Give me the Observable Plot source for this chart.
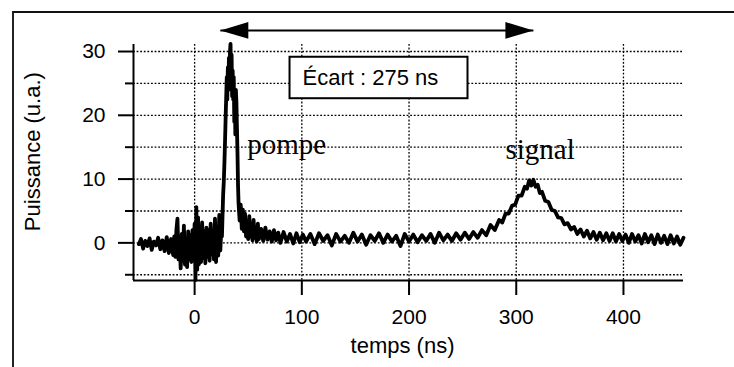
<!DOCTYPE html>
<html>
<head>
<meta charset="utf-8">
<script src="https://cdn.jsdelivr.net/npm/d3@7"></script>
<script src="https://cdn.jsdelivr.net/npm/@observablehq/plot@0.6"></script>
<style>
  html, body { margin: 0; padding: 0; background: white; }
  #wrap { position: relative; width: 734px; height: 367px; overflow: hidden; }
  #border { position: absolute; left: 12px; top: 11px; width: 740px; height: 380px;
            border-top: 2px solid #111; border-left: 2px solid #222; box-sizing: border-box; }
</style>
</head>
<body>
<div id="wrap"><div id="border"></div></div>
<script>
// ---- data: time (ns), power (u.a.) ----
const preTrigger = [[-52,-0.2],[-50,0.6],[-48,-0.9],[-46,0.3],[-44,-0.5],[-42,0.7],[-40,-1.1],[-38,0.2],[-36,-0.4],[-34,0.8],[-32,-1.0],[-30,0.4],[-28,-1.3],[-26,0.9],[-24,-1.6],[-22,0.6],[-20,-1.9]];
const triggerNoise = [[-19,1.0],[-18,-2.2],[-17,2.0],[-16,3.8],[-15,-2.6],[-14,0.8],[-13,-4.0],[-12,1.4],[-11,-2.8],[-10,2.7],[-9,-3.4],[-8,0.6],[-7,-3.8],[-6,1.8],[-5,-2.6],[-4,1.2],[-3,-3.0],[-2,2.0],[-1,-2.0],[0,3.0],[0.8,-5.8],[1.6,5.6],[2.4,-4.2],[3.2,4.0],[4,-3.4],[5,2.6],[6,-3.0],[7,3.2],[8,-2.4],[9,1.8],[10,-3.2],[11,2.4],[12,-2.2],[13,2.0],[14,-2.8],[15,3.0],[16,-1.8],[17,1.6],[18,-2.6],[19,3.8],[20,-3.0],[21,2.2],[22,-2.0],[23,4.4],[24,-1.2],[25,2.6]];
const pumpPulse = [[25.5,1.0],[26,4.0],[26.6,7.5],[27.2,9.5],[27.8,12.5],[28.4,16],[29,20],[29.5,23],[30,26],[30.5,22.5],[31,27.5],[31.5,24],[32,29],[32.5,25],[33,30],[33.5,31.2],[34,26],[34.5,29.5],[35,23],[35.5,27],[36,22.5],[36.5,26],[37,19],[37.5,23.5],[38,17],[38.5,24],[39,22],[39.5,18],[40,14],[40.5,9],[41,6.2],[42,3.5],[43,6.0],[44,2.2],[45,5.2]];
const pumpTail = [[46,1.8],[47,4.6],[48,1.0],[49,3.4],[50,0.6],[51,4.2],[52,1.0],[53,2.6],[54,0.4],[55,3.6],[56,0.8],[57,2.4],[58,0.2],[59,3.0],[60,0.6],[62,2.2],[64,0.3],[66,2.4],[68,0.5],[70,1.8],[72,0.2],[74,2.0],[76,0.4],[78,1.6],[80,0.0],[83,1.7],[86,0.2],[89,1.4],[92,-0.1],[95,1.5],[98,0.1]];
const plateau = [[101,1.3],[104,0.2],[108,1.4],[112,-0.2],[116,1.5],[120,0.3],[124,1.2],[128,-0.4],[132,1.4],[136,0.2],[140,1.1],[144,0.0],[148,1.6],[152,0.2],[156,1.3],[160,-0.3],[164,1.2],[168,0.3],[172,1.5],[176,0.0],[180,1.3],[184,0.2],[188,1.1],[192,-0.5],[196,1.4],[200,0.2],[204,1.3],[208,0.1],[212,1.2],[216,0.3],[220,1.4],[224,0.0],[228,1.6],[232,0.4],[236,1.3],[240,0.3],[244,1.5],[248,0.5],[252,1.6],[256,0.6],[260,1.7],[264,0.8]];
const signalPulse = [[268,2.0],[272,1.2],[276,2.8],[280,2.0],[284,3.6],[287,3.2],[290,4.6],[293,4.6],[296,5.8],[299,6.0],[302,7.4],[305,7.4],[308,8.8],[310,8.5],[312,9.8],[314,9.0],[316,9.9],[318,8.8],[320,9.1],[322,7.8],[324,8.0],[327,6.6],[330,6.4],[333,5.2],[336,5.0],[339,4.0],[342,3.9],[345,2.9],[348,3.1],[351,2.1],[354,2.5],[357,1.4],[360,2.1]];
const signalTail = [[363,1.0],[366,1.9],[369,0.7],[372,1.7],[375,0.5],[378,1.6],[381,0.4],[384,1.5],[387,0.3],[390,1.5],[393,0.2],[396,1.4],[399,0.3],[402,1.3],[405,0.0],[408,1.4],[411,0.2],[414,1.2],[417,-0.1],[420,1.4],[423,0.1],[426,1.2],[429,-0.2],[432,1.3],[435,0.0],[438,1.1],[441,-0.2],[444,1.2],[447,-0.1],[450,1.0],[453,-0.3],[456,0.8]];

// axes
const xDomain = [-57, 456];
const yDomain = [-5.9, 31.1];
const xTicks = [0, 100, 200, 300, 400];
const yTicks = [0, 10, 20, 30];
const yMinorTicks = [-5, 5, 15, 25];
const yGridLines = [-5, 0, 5, 10, 15, 20, 25, 30];
const xLabel = "temps (ns)";
const yLabel = "Puissance (u.a.)";
const yLabelAt = [{t: -151, p: 14.3}];

// annotations (data coordinates)
const arrowStart = [24];
const arrowEnd = [316];
const arrowLevel = 33.3;
const ecartText = "Écart : 275 ns";
const ecartBox = [{x1: 89, x2: 255, y1: 22.6, y2: 29.1, tx: 164, ty: 25.8}];
const peakLabels = [{label: "pompe", t: 49, p: 14.0}, {label: "signal", t: 290, p: 13.2}];

const trace = [...preTrigger, ...triggerNoise, ...pumpPulse, ...pumpTail, ...plateau, ...signalPulse, ...signalTail]
  .map(([t, p]) => ({t, p}));

const headRight = {draw(ctx, size) { const r = Math.sqrt(size / Math.PI);
  ctx.moveTo(0, 0); ctx.lineTo(-2 * r, -0.6 * r); ctx.lineTo(-2 * r, 0.6 * r); ctx.closePath(); }};
const headLeft = {draw(ctx, size) { const r = Math.sqrt(size / Math.PI);
  ctx.moveTo(0, 0); ctx.lineTo(2 * r, -0.6 * r); ctx.lineTo(2 * r, 0.6 * r); ctx.closePath(); }};

const sans = "'Liberation Sans', Arial, Helvetica, sans-serif";
const serif = "'Liberation Serif', 'Times New Roman', serif";
const dotted = {stroke: "black", strokeOpacity: 1, strokeWidth: 1.3, strokeDasharray: "1.8,1.8"};

const chart = Plot.plot({
  width: 734, height: 367,
  marginLeft: 133, marginRight: 51, marginTop: 44, marginBottom: 87,
  x: {domain: xDomain, axis: null},
  y: {domain: yDomain, axis: null},
  style: {fontFamily: sans, background: "transparent", color: "black"},
  marks: [
    Plot.gridY(yGridLines, dotted),
    Plot.gridX(xTicks, dotted),
    Plot.line(trace, {x: "t", y: "p", stroke: "black", strokeWidth: 3.8, strokeLinejoin: "round"}),
    Plot.rect(ecartBox, {x1: "x1", x2: "x2", y1: "y1", y2: "y2", fill: "white", stroke: "black", strokeWidth: 2}),
    Plot.text(ecartBox, {x: "tx", y: "ty", text: () => ecartText, fontSize: 22, fill: "black"}),
    Plot.text(peakLabels, {x: "t", y: "p", text: "label", textAnchor: "start", lineAnchor: "bottom",
      fontFamily: serif, fontSize: 29, fill: "black"}),
    Plot.link(arrowStart, {x1: d => d, x2: (d, i) => arrowEnd[i], y1: () => arrowLevel, y2: () => arrowLevel,
      stroke: "black", strokeWidth: 2}),
    Plot.dot(arrowStart, {x: d => d, y: () => arrowLevel, symbol: headLeft, r: 14, fill: "black", stroke: null}),
    Plot.dot(arrowEnd, {x: d => d, y: () => arrowLevel, symbol: headRight, r: 14, fill: "black", stroke: null}),
    Plot.ruleX([xDomain[0]], {stroke: "black", strokeWidth: 2}),
    Plot.ruleY([yDomain[0]], {stroke: "black", strokeWidth: 2}),
    Plot.axisY(yTicks, {tickSize: 15, tickPadding: 13, fontSize: 21, strokeWidth: 2, label: null}),
    Plot.axisY(yMinorTicks, {tickSize: 8, strokeWidth: 2, tickFormat: () => "", label: null}),
    Plot.axisX(xTicks, {tickSize: 15, tickPadding: 14, fontSize: 21, strokeWidth: 2, label: null}),
    Plot.text(yLabelAt, {x: "t", y: "p", text: () => yLabel, rotate: -90, fontSize: 22, fill: "black"}),
    Plot.text([xLabel], {frameAnchor: "bottom", dx: -6, dy: 72, fontSize: 22, fill: "black"})
  ]
});
chart.style.position = "absolute";
chart.style.left = "0px";
chart.style.top = "0px";
document.getElementById("wrap").prepend(chart);
</script>
</body>
</html>
